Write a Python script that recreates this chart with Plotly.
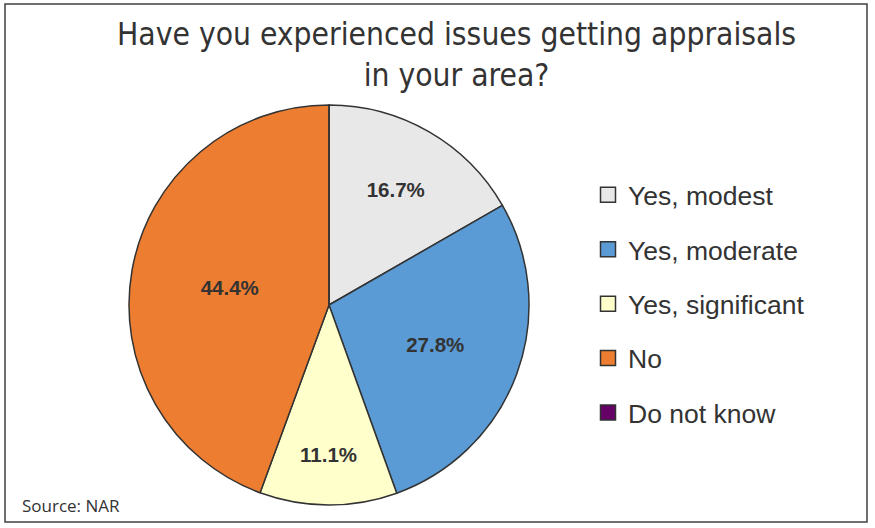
import plotly.graph_objects as go

labels = ["Yes, modest", "Yes, moderate", "Yes, significant", "No", "Do not know"]
values = [16.7, 27.8, 11.1, 44.4, 0.0]
colors = ["#e8e8e8", "#5b9bd5", "#ffffcc", "#ed7d31", "#660066"]
slice_text = ["16.7%", "27.8%", "11.1%", "44.4%", ""]

W, H = 875, 528
cx, cy, r = 329, 305, 200

fig = go.Figure(go.Pie(
    labels=labels,
    values=values,
    text=slice_text,
    texttemplate="%{text}",
    textposition="inside",
    insidetextorientation="horizontal",
    textfont=dict(family="Liberation Sans", size=20.5, color="#333333", weight="bold"),
    marker=dict(colors=colors, line=dict(color="#333333", width=1.5)),
    sort=False,
    direction="clockwise",
    rotation=0,
    showlegend=False,
    hovertemplate="%{label}: %{text}<extra></extra>",
    domain=dict(x=[(cx - r) / W, (cx + r) / W], y=[(H - cy - r) / H, (H - cy + r) / H]),
))

# legend entries as empty marker traces so the rows can be spaced out
for lab, col in zip(labels, colors):
    fig.add_trace(go.Scatter(
        x=[None], y=[None], mode="markers", name=lab, legendgroup=lab,
        marker=dict(symbol="square", size=15, color=col, line=dict(color="#333333", width=1.5)),
    ))

fig.update_layout(
    width=W, height=H,
    margin=dict(l=0, r=0, t=0, b=0),
    paper_bgcolor="white",
    plot_bgcolor="white",
    xaxis=dict(visible=False),
    yaxis=dict(visible=False),
    legend=dict(
        x=588 / W, xanchor="left",
        y=1 - 304 / H, yanchor="middle",
        tracegroupgap=17,
        font=dict(family="Liberation Sans", size=26.5, color="#333333"),
        bgcolor="rgba(0,0,0,0)",
        itemclick=False,
    ),
    shapes=[dict(type="rect", xref="paper", yref="paper",
                 x0=5 / W, x1=867 / W, y0=1 - 522 / H, y1=1 - 4 / H,
                 line=dict(color="#404040", width=1.5))],
    annotations=[
        dict(text="Have you experienced issues getting appraisals<br>in your area?",
             xref="paper", yref="paper", x=457 / W, y=1 - 14 / H,
             xanchor="center", yanchor="top", showarrow=False,
             font=dict(family="DejaVu Sans Condensed, Liberation Sans Narrow, Liberation Sans",
                       size=31.5, color="#333333")),
        dict(text="Source: NAR", xref="paper", yref="paper",
             x=20 / W, y=1 - 505 / H, xanchor="left", yanchor="middle",
             showarrow=False,
             font=dict(family="Open Sans", size=17, color="#333333")),
    ],
)

fig.write_html("out.html", config={"displayModeBar": False},
               post_script="document.body.style.margin='0';")
